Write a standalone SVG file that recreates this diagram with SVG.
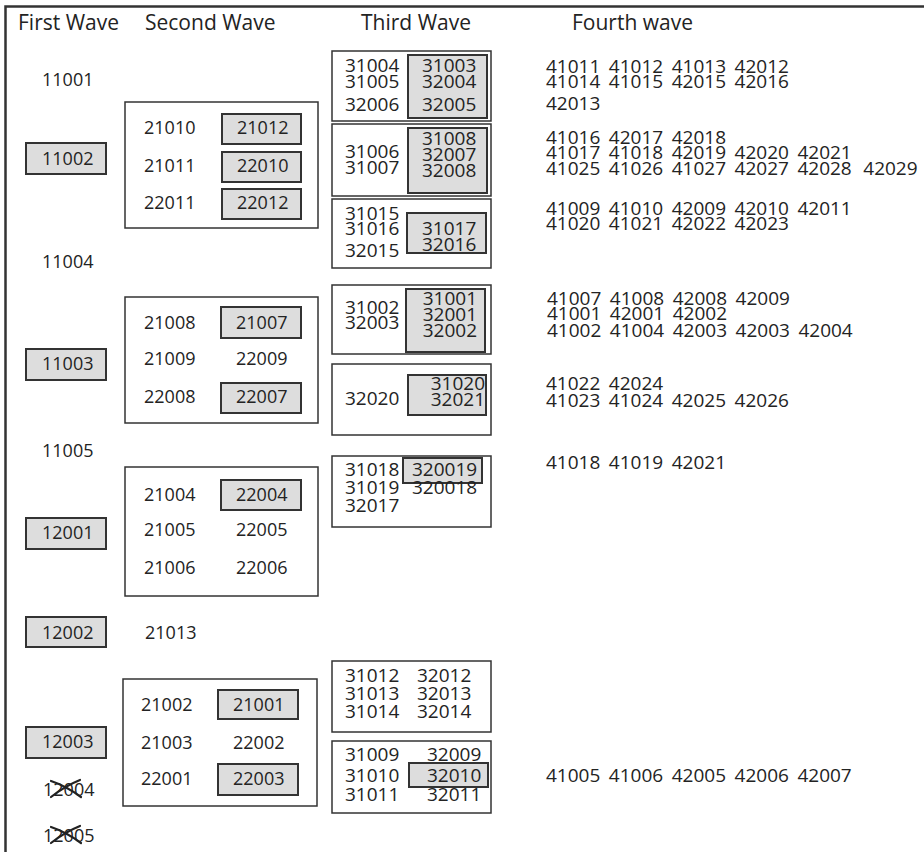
<svg xmlns="http://www.w3.org/2000/svg" width="924" height="852" viewBox="0 0 924 852">
<style>
text { font-family: "Open Sans", "Noto Sans", "Liberation Sans", sans-serif; fill: #232323; }
.h { font-size: 21px; }
.a { font-size: 18px; }
.b { font-size: 19px; }
.r { text-anchor: end; }
.f { font-size: 19px; word-spacing: 3.6px; }
.box { fill: #fff; stroke: #333; stroke-width: 1.5; }
.sh { fill: #dddddd; stroke: #333; stroke-width: 2; }
.frame { stroke: #333; stroke-width: 2.5; fill: none; }
.x { stroke: #222; stroke-width: 2.2; fill: none; stroke-linecap: round; }
</style>
<rect width="924" height="852" fill="#fff"/>
<path class="frame" d="M5.5,852 V6.5 H924"/>

<g id="headers">
<text class="h" x="18" y="30">First Wave</text>
<text class="h" x="145" y="30">Second Wave</text>
<text class="h" x="361" y="30">Third Wave</text>
<text class="h" x="572" y="30">Fourth wave</text>
</g>

<g id="first-wave">
<g id="n11001"><text class="a" x="42" y="86">11001</text></g>
<g id="n11002"><rect class="sh" x="26" y="143" width="80" height="31"/><text class="a" x="42" y="165">11002</text></g>
<g id="n11004"><text class="a" x="42" y="268">11004</text></g>
<g id="n11003"><rect class="sh" x="26" y="349" width="80" height="31"/><text class="a" x="42" y="370">11003</text></g>
<g id="n11005"><text class="a" x="42" y="457">11005</text></g>
<g id="n12001"><rect class="sh" x="26" y="518" width="80" height="31"/><text class="a" x="42" y="539">12001</text></g>
<g id="n12002"><rect class="sh" x="26" y="617" width="80" height="30"/><text class="a" x="42" y="639">12002</text></g>
<g id="n12003"><rect class="sh" x="26" y="727" width="80" height="31"/><text class="a" x="42" y="748">12003</text></g>
<g id="n12004"><text class="a" x="43" y="796">12004</text><path class="x" d="M51,781 Q66,786 81,797 M51,797 Q65,786 80,780"/></g>
<g id="n12005"><text class="a" x="43" y="842">12005</text><path class="x" d="M51,827 Q66,832 81,843 M51,843 Q65,832 80,826"/></g>
</g>

<g id="second-wave">
<g id="g2a">
<rect class="box" x="125" y="102" width="193" height="126"/>
<rect class="sh" x="222" y="114" width="79" height="30"/>
<rect class="sh" x="222" y="152" width="79" height="30"/>
<rect class="sh" x="222" y="189" width="79" height="30"/>
<text class="a" x="144" y="134">21010</text><text class="a" x="237" y="134">21012</text>
<text class="a" x="144" y="172">21011</text><text class="a" x="237" y="172">22010</text>
<text class="a" x="144" y="209">22011</text><text class="a" x="237" y="209">22012</text>
</g>
<g id="g2b">
<rect class="box" x="125" y="297" width="193" height="126"/>
<rect class="sh" x="221" y="307" width="80" height="31"/>
<rect class="sh" x="221" y="383" width="80" height="30"/>
<text class="a" x="144" y="329">21008</text><text class="a" x="236" y="329">21007</text>
<text class="a" x="144" y="365">21009</text><text class="a" x="236" y="365">22009</text>
<text class="a" x="144" y="403">22008</text><text class="a" x="236" y="403">22007</text>
</g>
<g id="g2c">
<rect class="box" x="125" y="467" width="193" height="129"/>
<rect class="sh" x="221" y="480" width="80" height="30"/>
<text class="a" x="144" y="501">21004</text><text class="a" x="236" y="501">22004</text>
<text class="a" x="144" y="536">21005</text><text class="a" x="236" y="536">22005</text>
<text class="a" x="144" y="574">21006</text><text class="a" x="236" y="574">22006</text>
</g>
<g id="n21013"><text class="a" x="145" y="639">21013</text></g>
<g id="g2d">
<rect class="box" x="123" y="679" width="194" height="127"/>
<rect class="sh" x="218" y="690" width="80" height="29"/>
<rect class="sh" x="218" y="764" width="80" height="31"/>
<text class="a" x="141" y="711">21002</text><text class="a" x="233" y="711">21001</text>
<text class="a" x="141" y="749">21003</text><text class="a" x="233" y="749">22002</text>
<text class="a" x="141" y="785">22001</text><text class="a" x="233" y="785">22003</text>
</g>
</g>

<g id="third-wave">
<g id="t1">
<rect class="box" x="332" y="51" width="159" height="70"/>
<rect class="sh" x="408" y="55" width="79" height="63"/>
<text class="b" x="345" y="72">31004</text><text class="b" x="422" y="72">31003</text>
<text class="b" x="345" y="88">31005</text><text class="b" x="422" y="88">32004</text>
<text class="b" x="345" y="111">32006</text><text class="b" x="422" y="111">32005</text>
</g>
<g id="t2">
<rect class="box" x="332" y="124" width="159" height="72"/>
<rect class="sh" x="408" y="128" width="79" height="65"/>
<text class="b" x="345" y="158">31006</text>
<text class="b" x="345" y="174">31007</text>
<text class="b" x="422" y="145">31008</text>
<text class="b" x="422" y="161">32007</text>
<text class="b" x="422" y="177">32008</text>
</g>
<g id="t3">
<rect class="box" x="332" y="199" width="159" height="69"/>
<rect class="sh" x="407" y="213" width="79" height="40"/>
<text class="b" x="345" y="220">31015</text>
<text class="b" x="345" y="235">31016</text>
<text class="b" x="345" y="257">32015</text>
<text class="b" x="422" y="235">31017</text>
<text class="b" x="422" y="251">32016</text>
</g>
<g id="t4">
<rect class="box" x="332" y="285" width="159" height="69"/>
<rect class="sh" x="406" y="289" width="79" height="63"/>
<text class="b" x="345" y="314">31002</text>
<text class="b" x="345" y="329">32003</text>
<text class="b r" x="477" y="305">31001</text>
<text class="b r" x="477" y="321">32001</text>
<text class="b r" x="477" y="337">32002</text>
</g>
<g id="t5">
<rect class="box" x="332" y="364" width="159" height="71"/>
<rect class="sh" x="408" y="375" width="78" height="40"/>
<text class="b" x="345" y="405">32020</text>
<text class="b r" x="485" y="390">31020</text>
<text class="b r" x="485" y="406">32021</text>
</g>
<g id="t6">
<rect class="box" x="332" y="456" width="159" height="71"/>
<rect class="sh" x="403" y="458" width="79" height="25"/>
<text class="b" x="345" y="476">31018</text><text class="b" x="412" y="476">320019</text>
<text class="b" x="345" y="494">31019</text><text class="b" x="412" y="494">320018</text>
<text class="b" x="345" y="512">32017</text>
</g>
<g id="t7">
<rect class="box" x="332" y="661" width="159" height="71"/>
<text class="b" x="345" y="682">31012</text><text class="b" x="417" y="682">32012</text>
<text class="b" x="345" y="700">31013</text><text class="b" x="417" y="700">32013</text>
<text class="b" x="345" y="718">31014</text><text class="b" x="417" y="718">32014</text>
</g>
<g id="t8">
<rect class="box" x="332" y="741" width="159" height="72"/>
<rect class="sh" x="409" y="763" width="79" height="24"/>
<text class="b" x="345" y="761">31009</text><text class="b" x="427" y="761">32009</text>
<text class="b" x="345" y="782">31010</text><text class="b" x="427" y="782">32010</text>
<text class="b" x="345" y="801">31011</text><text class="b" x="427" y="801">32011</text>
</g>
</g>

<g id="fourth-wave">
<g id="f1">
<text class="f" x="546" y="73">41011 41012 41013 42012</text>
<text class="f" x="546" y="88">41014 41015 42015 42016</text>
<text class="f" x="546" y="110">42013</text>
</g>
<g id="f2">
<text class="f" x="546" y="144">41016 42017 42018</text>
<text class="f" x="546" y="159">41017 41018 42019 42020 42021</text>
<text class="f" x="546" y="175">41025 41026 41027 42027 42028 <tspan dx="3">42029</tspan></text>
</g>
<g id="f3">
<text class="f" x="546" y="215">41009 41010 42009 42010 42011</text>
<text class="f" x="546" y="230">41020 41021 42022 42023</text>
</g>
<g id="f4">
<text class="f" x="547" y="305">41007 41008 42008 42009</text>
<text class="f" x="547" y="320">41001 42001 42002</text>
<text class="f" x="547" y="337">41002 41004 42003 42003 42004</text>
</g>
<g id="f5">
<text class="f" x="546" y="390">41022 42024</text>
<text class="f" x="546" y="407">41023 41024 42025 42026</text>
</g>
<g id="f6">
<text class="f" x="546" y="469">41018 41019 42021</text>
</g>
<g id="f7">
<text class="f" x="546" y="782">41005 41006 42005 42006 42007</text>
</g>
</g>
</svg>
